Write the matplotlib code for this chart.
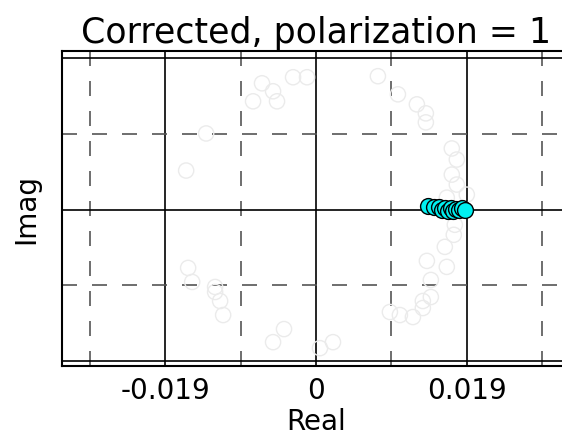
import numpy as np
import matplotlib
matplotlib.use("Agg")
import matplotlib.pyplot as plt
from matplotlib.ticker import MultipleLocator, FuncFormatter

# uncorrected points (faint)
raw_re = [-0.00680, -0.00541, -0.00793, -0.00491, -0.00289, -0.00113, -0.01384, -0.01636,
          0.00780, 0.01032, 0.01271, 0.01384, 0.01384, 0.01711, 0.01774, 0.01711, 0.01774,
          0.01900, 0.01648, 0.01749, 0.01736, 0.01623, 0.01648, 0.01397, 0.01447, 0.01447,
          0.01346, 0.01346, 0.01221, 0.01057, 0.00931, 0.00214, 0.00050, -0.01611, -0.01560,
          -0.01271, -0.01271, -0.01208, -0.01170, -0.00403, -0.00541]
raw_im = [0.01585, 0.01485, 0.01359, 0.01359, 0.01661, 0.01661, 0.00956, 0.00491,
          0.01674, 0.01447, 0.01321, 0.01208, 0.01095, 0.00768, 0.00629, 0.00440, 0.00315,
          0.00189, 0.00151, -0.00189, -0.00315, -0.00466, -0.00717, -0.00642, -0.00881, -0.01095,
          -0.01145, -0.01233, -0.01346, -0.01321, -0.01283, -0.01661, -0.01736, -0.00730, -0.00906,
          -0.00969, -0.01032, -0.01145, -0.01321, -0.01497, -0.01661]

# corrected points
cor_re = [0.01409, 0.01485, 0.01548, 0.01585, 0.01623, 0.01661, 0.01699, 0.01724,
          0.01762, 0.01799, 0.01837, 0.01875]
cor_im = [0.00050, 0.00038, 0.00038, 0.0, 0.00025, -0.00013, 0.00025, -0.00013,
          0.00013, 0.0, 0.00025, 0.0]

step = 0.019

fig = plt.figure(figsize=(5.62, 4.36), dpi=100)
ax = fig.add_axes([62/562, 70/436, 508/562, 315/436])

ax.scatter(raw_re, raw_im, s=120, facecolors='none', edgecolors='#ebebeb', linewidths=1, zorder=2)
ax.scatter(cor_re, cor_im, s=130, c='#00f0f0', edgecolors='black', linewidths=1.0, zorder=3)

ax.set_xlim(-0.0320, 0.0320)
ax.set_ylim(-0.0196, 0.0199)

ax.xaxis.set_major_locator(MultipleLocator(step))
ax.yaxis.set_major_locator(MultipleLocator(step))
ax.xaxis.set_minor_locator(MultipleLocator(step / 2))
ax.yaxis.set_minor_locator(MultipleLocator(step / 2))
ax.xaxis.set_major_formatter(FuncFormatter(lambda v, p: '0' if abs(v) < 1e-9 else f'{v:.3f}'))
ax.yaxis.set_major_formatter(FuncFormatter(lambda v, p: ''))

ax.grid(True, which='major', color='black', linestyle='-', linewidth=1.2, zorder=1)
ax.grid(True, which='minor', color='#555555', linestyle=(0, (9, 9)), linewidth=1.2, zorder=1)
ax.set_axisbelow(True)
ax.tick_params(which='both', direction='in', length=0, labelsize=20, pad=8)
for sp in ax.spines.values():
    sp.set_linewidth(1.5)

ax.set_xlabel('Real', fontsize=20, labelpad=2)
ax.set_ylabel('Imag', fontsize=20, labelpad=8)
ax.set_title('Corrected, polarization = 1', fontsize=25, pad=6)

fig.savefig('out.png', dpi=100)
